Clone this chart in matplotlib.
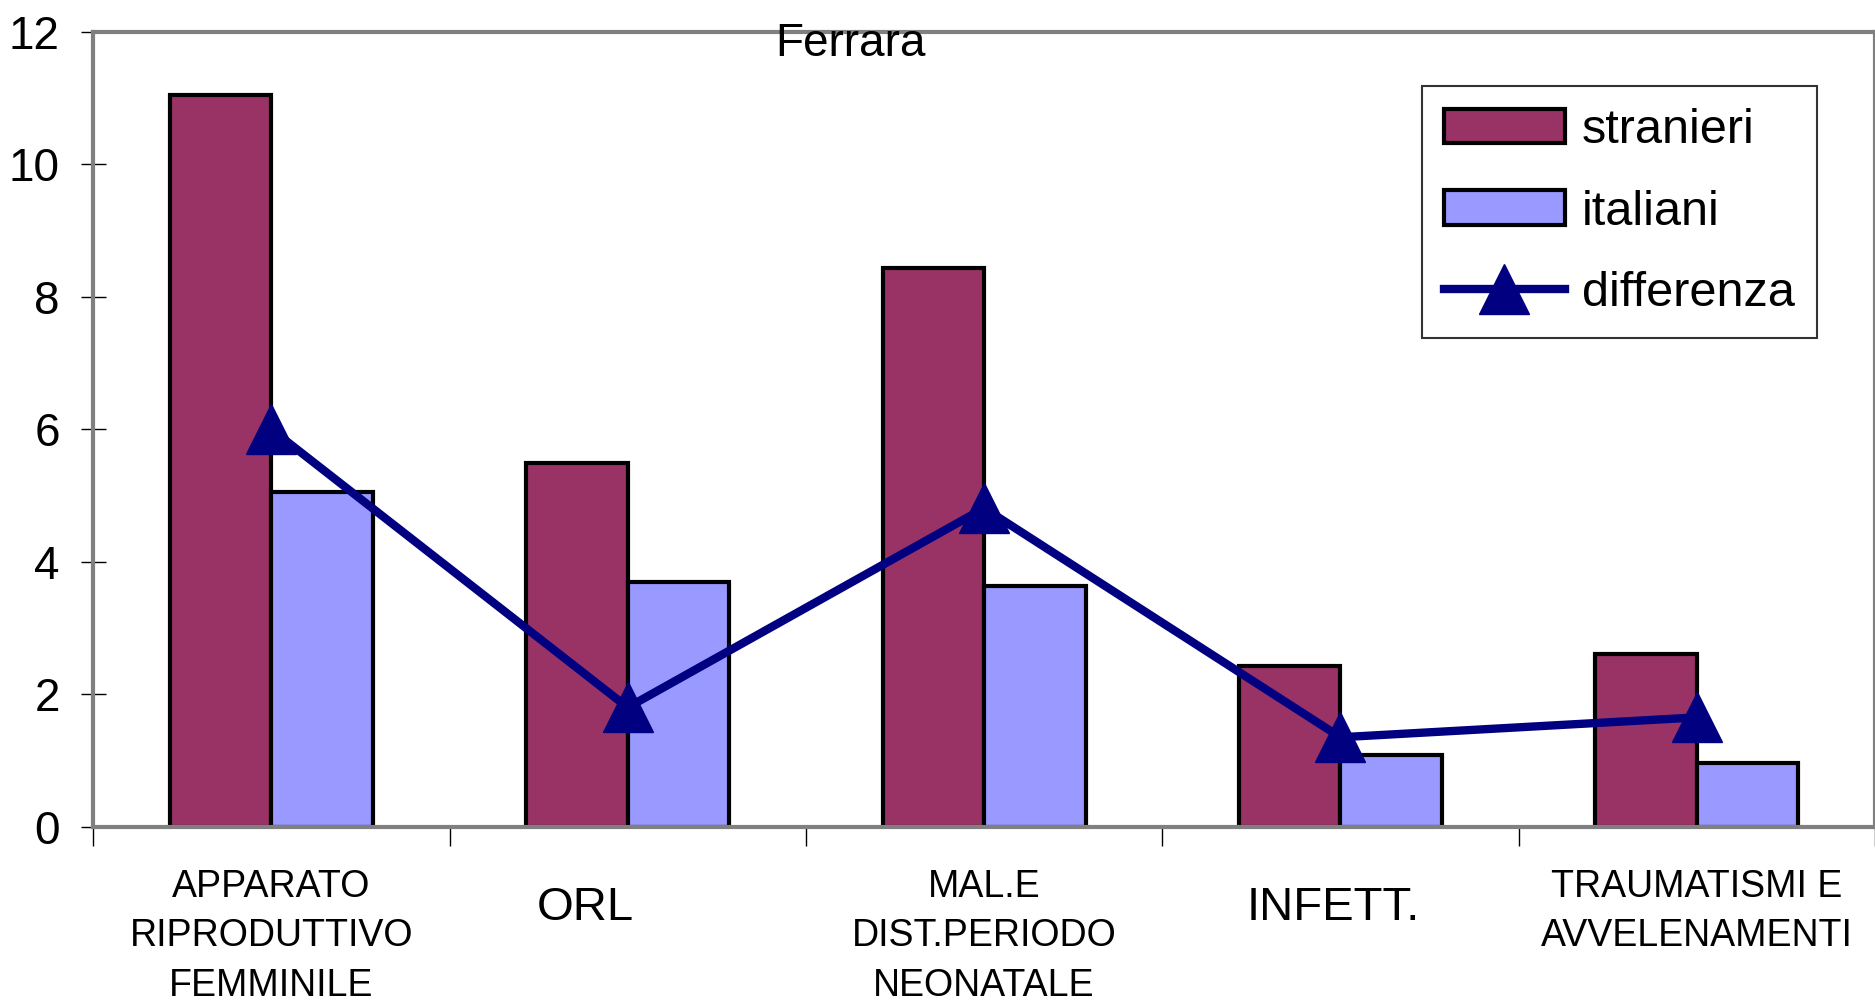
import numpy as np
import matplotlib.pyplot as plt

# valori
categorie = ["APPARATO\nRIPRODUTTIVO\nFEMMINILE", "ORL", "MAL.E\nDIST.PERIODO\nNEONATALE",
             "INFETT.", "TRAUMATISMI E\nAVVELENAMENTI"]
stranieri = [11.05, 5.49, 8.44, 2.42, 2.60]
italiani = [5.06, 3.70, 3.63, 1.08, 0.96]
differenza = [6.00, 1.80, 4.81, 1.35, 1.65]

plt.rcParams['font.family'] = ['Liberation Sans', 'DejaVu Sans']

fig = plt.figure(figsize=(18.75, 10.02), dpi=100)
ax = fig.add_axes([0.0497, 0.175, 0.9503, 0.793])

x = np.arange(len(categorie))
w = 0.285
ax.bar(x - w / 2, stranieri, w, color='#993366', edgecolor='black', linewidth=3,
       label='stranieri', zorder=2)
ax.bar(x + w / 2, italiani, w, color='#9999FF', edgecolor='black', linewidth=3,
       label='italiani', zorder=2)
ax.plot(x, differenza, color='#000080', linewidth=6, marker='^', markersize=36,
        label='differenza', zorder=3)

ax.set_xlim(-0.5, len(categorie) - 0.5)
ax.set_ylim(0, 12)
ax.set_yticks(np.arange(0, 13, 2))
ax.tick_params(axis='y', direction='inout', length=18, width=1, color='black',
               labelsize=33, pad=15)
ax.set_xticks(np.arange(-0.5, len(categorie), 1.0))
ax.set_xticklabels([])
ax.tick_params(axis='x', direction='out', length=14, width=1, color='black')

for s in ax.spines.values():
    s.set_color('#808080')
    s.set_linewidth(3)

# etichette delle categorie
dx = [0, -0.12, 0, -0.02, 0]
for i, lab in enumerate(categorie):
    if '\n' in lab:
        ax.text(i + dx[i], -0.053, lab, transform=ax.get_xaxis_transform(),
                ha='center', va='top', fontsize=27, linespacing=1.48)
    else:
        ax.text(i + dx[i], -0.102, lab, transform=ax.get_xaxis_transform(),
                ha='center', va='center', fontsize=34)

fig.text(0.4535, 0.956, "Ferrara", ha='center', va='center', fontsize=33)

h, l = ax.get_legend_handles_labels()
order = [l.index('stranieri'), l.index('italiani'), l.index('differenza')]
leg = ax.legend([h[k] for k in order], [l[k] for k in order],
                loc='upper right', bbox_to_anchor=(0.969, 0.914), bbox_transform=fig.transFigure,
                borderaxespad=0, fontsize=35, fancybox=False, handlelength=2.5,
                labelspacing=0.75, handletextpad=0.35, borderpad=0.45)
leg.get_frame().set_edgecolor('black')
leg.get_frame().set_linewidth(1.5)

fig.savefig('out.png', dpi=100)
